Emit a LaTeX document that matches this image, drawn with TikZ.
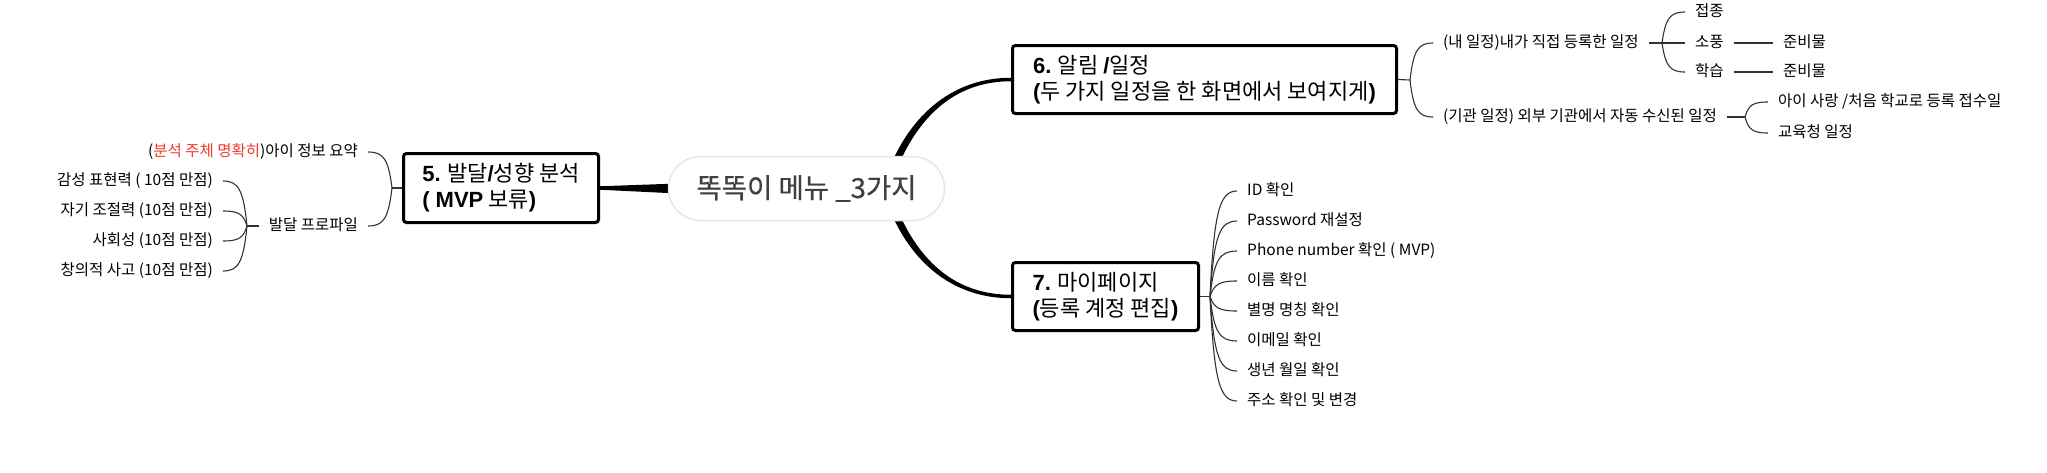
\documentclass[tikz,border=0pt]{standalone}
\usepackage{fontspec}
\newfontfamily\kr{Noto Sans CJK KR}
\newfontfamily\krb{Noto Sans CJK KR}[FakeBold=0.6]
\newfontfamily\lat{Liberation Sans}
\usetikzlibrary{calc}
\definecolor{redtxt}{HTML}{EE3B2B}
\definecolor{ctext}{HTML}{404040}
\definecolor{cborder}{HTML}{ECE4E4}
\definecolor{conncol}{HTML}{333333}
\newcommand\Bl[1]{{\lat\bfseries #1}}
\pgfdeclarelayer{bg}
\pgfdeclarelayer{lines}
\pgfsetlayers{bg,lines,main}
\begin{document}
\begin{tikzpicture}[x=1pt,y=-1pt,
 box/.style={draw=black, line width=3pt, rounded corners=3pt, fill=white, align=left, inner sep=0pt, font=\kr\fontsize{22}{26}\selectfont},
 central/.style={draw=cborder, line width=1.5pt, fill=white, rounded corners=32pt, minimum width=276pt, minimum height=64pt, font=\krb\fontsize{27.5}{32}\selectfont, text=ctext},
 leaf/.style={font=\kr\fontsize{15.5}{18}\selectfont, inner xsep=10pt, inner ysep=2pt, text height=12pt, text depth=3.5pt},
 conn/.style={draw=conncol, line width=1.1pt},
 brc/.style={conn, to path={let \p1=(\tikztostart), \p2=(\tikztotarget) in .. controls ({\x1+0.15*(\x2-\x1)},{\y1+0.8*(\y2-\y1)}) and ({\x1+0.35*(\x2-\x1)},{\y2}) .. (\tikztotarget)}},
 taper/.style={fill=black}
]
\begin{pgfonlayer}{bg}
\fill[white] (0,0) rectangle (2047,472);
\end{pgfonlayer}
\useasboundingbox (0,0) rectangle (2047,472);

% main nodes
\node[central] (c) at (806.5,188.5) {똑똑이 메뉴 \_3가지};
\node[box, minimum width=195pt, minimum height=69pt] (b5) at (501,188) {\Bl{5.} 발달\Bl{/}성향 분석\\\Bl{( MVP} 보류\Bl{)}};
\node[box, minimum width=384pt, minimum height=68pt] (b6) at (1204.5,79.5) {\Bl{6.} 알림 \Bl{/}일정\\\Bl{(}두 가지 일정을 한 화면에서 보여지게\Bl{)}};
\node[box, minimum width=186pt, minimum height=68pt] (b7) at (1105.5,296.5) {\Bl{7.} 마이페이지\\\Bl{(}등록 계정 편집\Bl{)}};

% thick connectors
\coordinate (u0) at (895,164);
\coordinate (l0) at (895,213);
\begin{pgfonlayer}{lines}
\fill[taper] ($(b5.east)+(0,-1.75)$) -- ($(c.west)+(10,-5)$) -- ($(c.west)+(10,5)$) -- ($(b5.east)+(0,1.75)$) -- cycle;
\fill[taper] ($(u0)+(-3.3,-1.2)$) .. controls ($(u0)+(19,-52)$) and ($(b6.west)+(-56,-1.75)$) .. ($(b6.west)+(0,-1.75)$) -- ($(b6.west)+(0,1.75)$) .. controls ($(b6.west)+(-56,1.75)$) and ($(u0)+(25,-48)$) .. ($(u0)+(3.3,1.2)$) -- cycle;
\fill[taper] ($(l0)+(-3.3,1.2)$) .. controls ($(l0)+(19,52)$) and ($(b7.west)+(-56,1.75)$) .. ($(b7.west)+(0,1.75)$) -- ($(b7.west)+(0,-1.75)$) .. controls ($(b7.west)+(-56,-1.75)$) and ($(l0)+(25,48)$) .. ($(l0)+(3.3,-1.2)$) -- cycle;
\end{pgfonlayer}

% branch 5 (left)
\coordinate (j5) at (392,188);
\node[leaf, anchor=east] (n51) at (368,152) {(\textcolor{redtxt}{분석 주체 명확히})아이 정보 요약};
\node[leaf, anchor=east] (n52) at (368,226) {발달 프로파일};
\draw[conn] (b5.west) -- (j5);
\draw[brc] (j5) to (n51.east);
\draw[brc] (j5) to (n52.east);
\coordinate (j52) at (247,226);
\draw[conn] (n52.west) -- (j52);
\node[leaf, anchor=east] (n521) at (223,181) {감성 표현력 ( 10점 만점)};
\node[leaf, anchor=east] (n522) at (223,211) {자기 조절력 (10점 만점)};
\node[leaf, anchor=east] (n523) at (223,241) {사회성 (10점 만점)};
\node[leaf, anchor=east] (n524) at (223,271) {창의적 사고 (10점 만점)};
\foreach \k in {1,...,4} {\draw[brc] (j52) to (n52\k.east);}

% branch 6
\coordinate (j6) at (1410,80);
\node[leaf, anchor=west] (n61) at (1433,43) {(내 일정)내가 직접 등록한 일정};
\node[leaf, anchor=west] (n62) at (1433,117) {(기관 일정) 외부 기관에서 자동 수신된 일정};
\draw[conn] (b6.east) -- (j6);
\draw[brc] (j6) to (n61.west);
\draw[brc] (j6) to (n62.west);
\coordinate (j61) at (1662,43);
\node[leaf, anchor=west] (n611) at (1685,12) {접종};
\node[leaf, anchor=west] (n612) at (1685,43) {소풍};
\node[leaf, anchor=west] (n613) at (1685,72) {학습};
\draw[conn] (n61.east) -- (j61);
\foreach \k in {1,2,3} {\draw[brc] (j61) to (n61\k.west);}
\node[leaf, anchor=west] (n6121) at (1773,43) {준비물};
\node[leaf, anchor=west] (n6131) at (1773,72) {준비물};
\draw[conn] (n612.east) -- (n6121.west);
\draw[conn] (n613.east) -- (n6131.west);
\coordinate (j62) at (1745,117);
\node[leaf, anchor=west] (n621) at (1768,102) {아이 사랑 /처음 학교로 등록 접수일};
\node[leaf, anchor=west] (n622) at (1768,133) {교육청 일정};
\draw[conn] (n62.east) -- (j62);
\draw[brc] (j62) to (n621.west);
\draw[brc] (j62) to (n622.west);

% branch 7
\coordinate (j7) at (1210,296.5);
\draw[conn] (b7.east) -- (j7);
\foreach \t [count=\i] in {ID 확인, Password 재설정, Phone number 확인 ( MVP), 이름 확인, 별명 명칭 확인, 이메일 확인, 생년 월일 확인, 주소 확인 및 변경} {
  \node[leaf, anchor=west] (n7\i) at (1237,{161+30*\i}) {\t};
  \draw[brc] (j7) to (n7\i.west);
}
\end{tikzpicture}
\end{document}
